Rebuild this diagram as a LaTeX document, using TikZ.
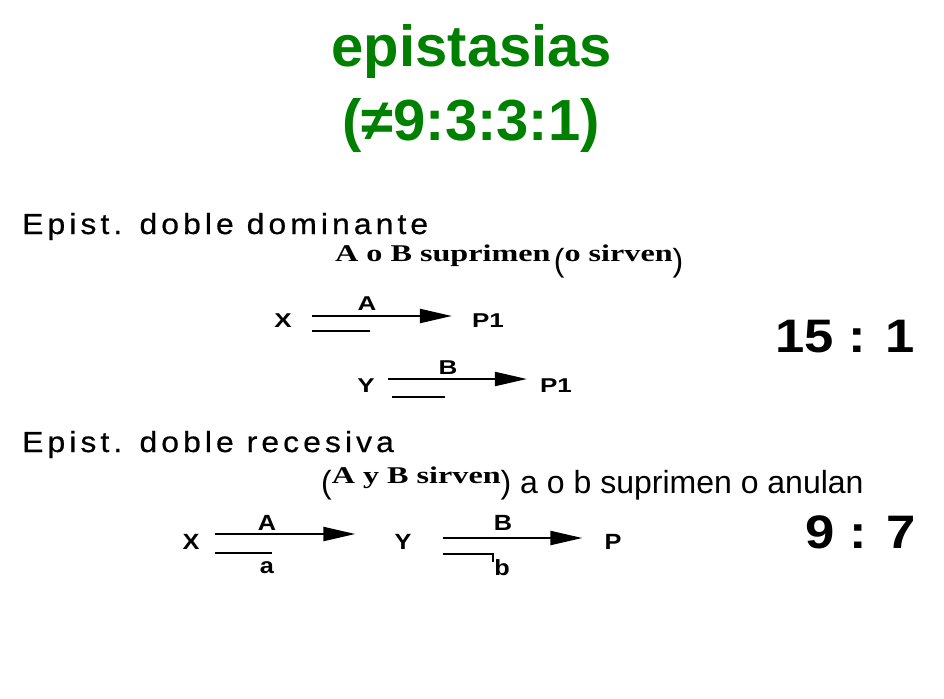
\documentclass[tikz,border=0pt]{standalone}
\usepackage{fontspec}
\usetikzlibrary{arrows.meta}
\setmainfont{Liberation Sans}
\newfontfamily\slidefont{Liberation Sans}
\newfontfamily\scanfont[FakeStretch=1.1,LetterSpace=14,FakeBold=0.6]{Liberation Sans}
\newfontfamily\scanbold[FakeStretch=1.3]{Liberation Sans Bold}
\newfontfamily\scanboldb[FakeStretch=1.15]{Liberation Sans Bold}
\newfontfamily\scanserif[FakeStretch=1.34]{Liberation Serif Bold}
\newfontfamily\ratiofont[FakeStretch=1.12]{Liberation Sans Bold}
\newcommand\serifsz{\scanserif\fontsize{24}{28}\selectfont}
\newcommand\slidesz{\slidefont\fontsize{32}{38}\selectfont}
\definecolor{titlegreen}{RGB}{0,128,0}
\begin{document}
\begin{tikzpicture}[x=1pt,y=-1pt,
    txt/.style={anchor=base west,inner sep=0pt},
    lbl/.style={inner sep=0pt,font=\scanbold\fontsize{20}{22}\selectfont},
    lblbig/.style={inner sep=0pt,font=\scanboldb\fontsize{22}{24}\selectfont},
    fwd/.style={line width=2.2pt,-{Triangle[length=32pt,width=14pt]}},
    bar/.style={line width=2pt}]
  \useasboundingbox (0,0) rectangle (944,698);
  % title
  \node[anchor=base,inner sep=0pt,text=titlegreen,
    font=\slidefont\bfseries\fontsize{58}{68}\selectfont] (ttl) at (472,67) {epistasias};
  \node[anchor=base,inner sep=0pt,text=titlegreen,
    font=\slidefont\bfseries\fontsize{58}{68}\selectfont] (ttlratio) at (471,140) {(≠9:3:3:1)};
  % doble dominante
  \node[txt,font=\scanfont\fontsize{29}{34}\selectfont] (dom) at (22,234) {Epist. doble dominante};
  \node[txt,font=\serifsz] (supAB) at (335,261) {A o B suprimen};
  \node[txt] (sirAB) at ([shift={(3,10)}]supAB.base east)
    {{\slidesz(}\raisebox{10pt}{\serifsz o sirven}{\slidesz)}};
  \draw
    (283,321) node[lbl] (x1){X}
    (488,321) node[lbl] (p1){P1}
    (367,304) node[lbl] (la1){A}
    (366,386) node[lbl] (y1){Y}
    (556,386) node[lbl] (p2){P1}
    (448,368) node[lbl] (lb1){B};
  \begin{scope}
    \draw[fwd] ([shift={(20,-5)}]x1.east) -- ([shift={(-20,-5)}]p1.west);
    \draw[bar] ([shift={(20,10)}]x1.east) -- ++(58,0);
    \draw[fwd] ([shift={(13,-7)}]y1.east) -- ([shift={(-13,-7)}]p2.west);
    \draw[bar] ([shift={(17,11)}]y1.east) -- ++(53,0);
  \end{scope}
  \node[txt,font=\ratiofont\fontsize{47}{56}\selectfont] (r1) at (775,352) {15 : 1};
  % doble recesiva
  \node[txt,font=\scanfont\fontsize{29}{34}\selectfont] (rec) at (22,452) {Epist. doble recesiva};
  \node[txt,font=\slidesz] (sirab) at (321,493)
    {(\raisebox{10pt}{\serifsz A y B sirven}) a o b suprimen o anulan};
  \draw
    (191,542) node[lblbig] (x2){X}
    (403,542) node[lblbig] (y2){Y}
    (613,542) node[lblbig] (p3){P}
    (267,523) node[lblbig] (la2){A}
    (267,568) node[lblbig] (la3){a}
    (503,523) node[lblbig] (lb2){B}
    (502,568) node[lblbig] (lb3){b};
  \begin{scope}
    \draw[fwd] ([shift={(15,-8)}]x2.east) -- ([shift={(-39,-8)}]y2.west);
    \draw[bar] ([shift={(15,11)}]x2.east) -- ++(57,0);
    \draw[fwd] ([shift={(31,-4)}]y2.east) -- ([shift={(-22,-4)}]p3.west);
    \draw[bar] ([shift={(31,12)}]y2.east) -- ++(50,0) -- ++(0,8);
  \end{scope}
  \node[txt,font=\ratiofont\fontsize{47}{56}\selectfont] (r2) at (805,548) {9 : 7};
\end{tikzpicture}
\end{document}
